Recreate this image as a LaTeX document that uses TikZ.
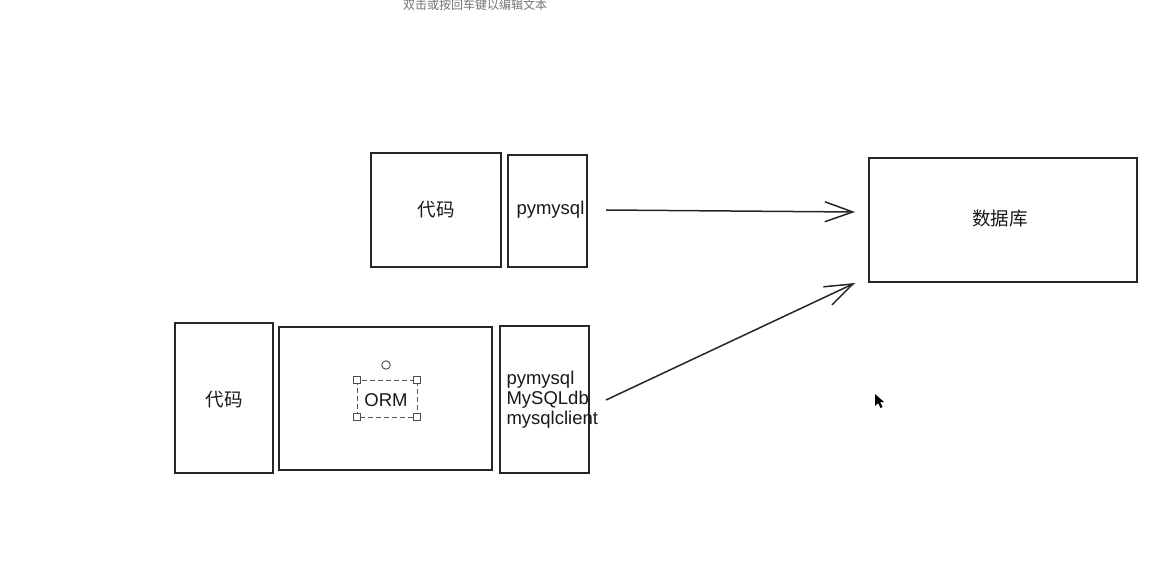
\documentclass[tikz,border=0pt]{standalone}
\usepackage{fontspec}
\setmainfont{Liberation Sans}
\newfontfamily\cjk{Noto Sans CJK SC}
\usetikzlibrary{arrows.meta}
\begin{document}
\begin{tikzpicture}[x=1pt,y=-1pt,
  box/.style={draw=black!85,line width=1.6pt,inner sep=0pt},
  lbl/.style={font=\fontsize{18.5}{20}\selectfont,text=black!90},
  cjklbl/.style={font=\cjk\fontsize{18.5}{20}\selectfont,text=black!90},
  conn/.style={draw=black!85,line width=1.5pt,-{Straight Barb[length=28pt,width=20pt,line width=1.5pt]}},
  handle/.style={draw=black!70,line width=0.9pt,fill=white,minimum size=7.5pt,inner sep=0pt}]
\useasboundingbox (0,0) rectangle (1156,564);
\fill[white] (0,0) rectangle (1156,564);
% top hint text
\node[font=\cjk\fontsize{12}{13}\selectfont,text=black!55] (hint) at (475,5) {双击或按回车键以编辑文本};
% top row
\draw[box] (371,153) rectangle (501,267);
\node[cjklbl] (code1) at (436,210) {代码};
\draw[box] (508,155) rectangle (587,267);
\node[lbl,anchor=west] (pm1) at (513,210) {pymysql};
\node[minimum width=79pt,minimum height=112pt] (drv1) at (547.5,211) {};
% database
\draw[box] (869,158) rectangle (1137,282);
\node[minimum width=268pt,minimum height=124pt] (db) at (1003,220) {};
\node[cjklbl] (dbt) at (1000,219) {数据库};
% bottom row
\draw[box] (175,323) rectangle (273,473);
\node[cjklbl] (code2) at (224,400) {代码};
\draw[box] (279,327) rectangle (492,470);
\node[lbl] (orm) at (386,400) {ORM};
\draw[box] (500,326) rectangle (589,473);
\node[lbl,anchor=west,align=left,font=\fontsize{18.5}{20}\selectfont] (drv2) at (503,400) {pymysql\\MySQLdb\\mysqlclient};
% selection frame around ORM
\draw[black!65,line width=0.9pt,dash pattern=on 5pt off 3pt] (357,380) rectangle (417,417);
\node[handle] (h1) at (357,380) {};
\node[handle] (h2) at (417,380) {};
\node[handle] (h3) at (357,417) {};
\node[handle] (h4) at (417,417) {};
\node[draw=black!70,line width=0.9pt,circle,minimum size=8.5pt,inner sep=0pt] (rot) at (386,365) {};
% connectors
\coordinate (a1s) at (606,210);
\coordinate (a1e) at (855,212);
\coordinate (a2s) at (606,400);
\coordinate (a2e) at (855,283);
\draw[conn] (a1s) -- (a1e);
\draw[conn] (a2s) -- (a2e);
% cursor
\fill[black] (875,394) -- (875,406) -- (878,403) -- (880.5,408) -- (882.5,407) -- (880,402) -- (884,402) -- cycle;
\end{tikzpicture}
\end{document}
